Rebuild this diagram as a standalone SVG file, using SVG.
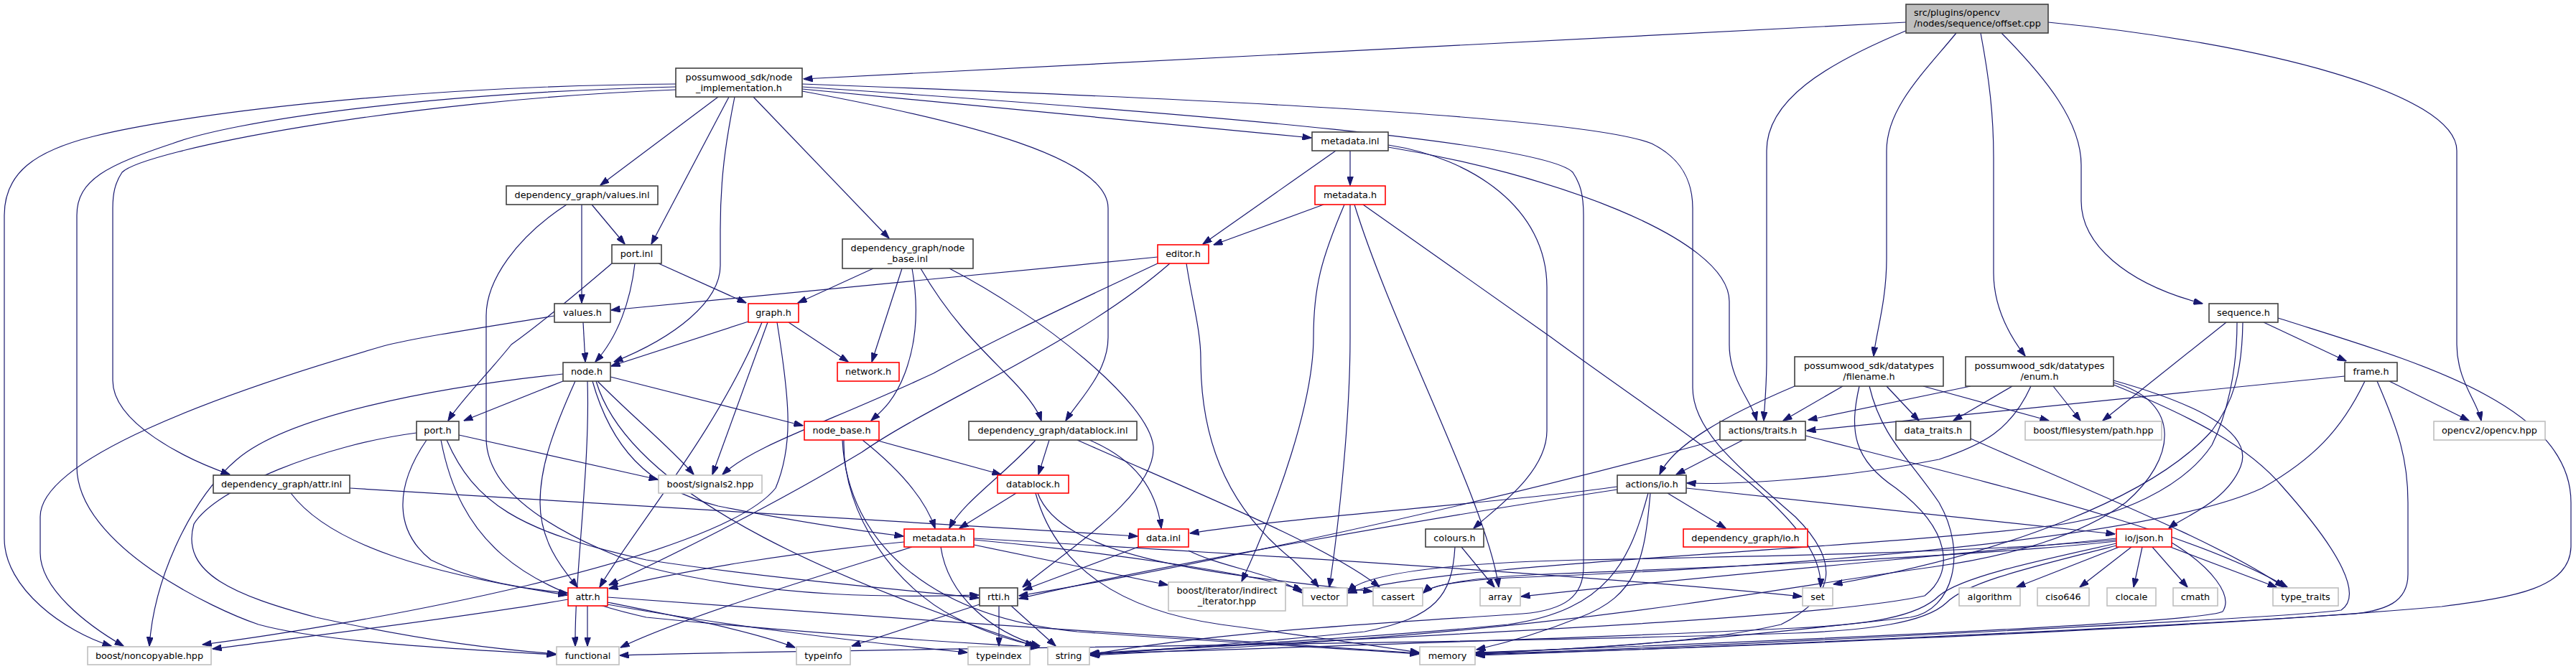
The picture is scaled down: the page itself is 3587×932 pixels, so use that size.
<svg xmlns="http://www.w3.org/2000/svg" width="3587" height="932" viewBox="0 0 3587 932">
<style>
.n rect{fill:#fff;stroke:#404040;stroke-width:1.6}
.n.r rect{stroke:#ff0000}
.n.g rect{stroke:#bfbfbf}
.n.root rect{fill:#bfbfbf;stroke:#404040}
text{font-family:"DejaVu Sans",sans-serif;font-size:12.8px;fill:#000;text-anchor:middle}
.n.root text{text-anchor:start}
#edges path{fill:none;stroke:#191970;stroke-width:1.2;marker-end:url(#a)}
</style>
<defs>
<marker id="a" markerWidth="13" markerHeight="9" refX="12.5" refY="4.5" orient="auto" markerUnits="userSpaceOnUse"><path d="M0,0 L13,4.5 L0,9 z" fill="#191970" stroke="#191970" stroke-width="1"/></marker>
</defs>
<rect width="3587" height="932" fill="#fff"/>
<g id="edges">
<path d="M2654,31 L1119,110"/>
<path d="M2656,42 C2540,90 2460,140 2460,210 L2460,500 C2460,540 2457,565 2456,586"/>
<path d="M2724,46 C2680,100 2627,150 2627,210 L2627,360 C2627,420 2612,465 2609,496"/>
<path d="M2758,46 C2770,110 2776,160 2776,220 L2776,380 C2776,430 2800,470 2820,496"/>
<path d="M2787,46 C2850,110 2898,170 2898,230 L2898,280 C2898,340 2960,395 3067,423"/>
<path d="M2852,31 C3150,60 3421,130 3421,210 L3421,480 C3421,530 3450,560 3455,586"/>
<path d="M941,117 C560,120 250,160 130,190 C50,210 6,240 6,300 L6,750 C6,820 90,880 155,900"/>
<path d="M941,121 C580,130 320,170 240,200 C150,230 107,250 107,300 L107,650 C107,760 300,850 360,870 C450,895 650,905 774,912"/>
<path d="M941,125 C550,140 200,210 170,240 C160,255 157,270 157,290 L157,530 C157,590 260,640 320,661"/>
<path d="M1000,135 L836,258"/>
<path d="M1015,135 L907,340"/>
<path d="M1023,135 C1010,200 1003,250 1003,320 L1003,370 C1003,420 940,470 855,504"/>
<path d="M1049,135 L1238,332"/>
<path d="M1117,124 L1826,192"/>
<path d="M1117,127 C1350,170 1543,220 1543,290 L1543,470 C1543,520 1500,560 1484,586"/>
<path d="M1117,117 C1600,135 2200,160 2300,200 C2340,220 2357,250 2357,290 L2357,540 C2357,600 2420,650 2500,720 C2560,780 2560,830 2480,870 C2350,900 2150,905 2055,910"/>
<path d="M1117,121 C1700,160 2150,200 2190,240 C2200,255 2205,270 2205,300 L2205,790 C2205,830 2180,850 2120,855 C1900,870 1700,880 1518,912"/>
<path d="M824,285 L870,340"/>
<path d="M810,285 L810,422"/>
<path d="M789,285 C720,330 677,390 677,440 L677,610 C677,680 760,740 900,790 C1100,840 1300,830 1363,829"/>
<path d="M917,367 L1039,422"/>
<path d="M852,367 C790,420 740,460 712,480 C680,520 640,560 624,586"/>
<path d="M884,367 C878,420 860,470 829,504"/>
<path d="M812,449 L815,504"/>
<path d="M772,440 C680,455 580,470 534,482 C300,550 56,640 56,720 L56,770 C56,820 120,870 172,900"/>
<path d="M1216,374 L1111,422"/>
<path d="M1256,374 L1214,504"/>
<path d="M1270,374 C1280,430 1275,480 1260,520 C1245,560 1225,575 1213,586"/>
<path d="M1282,374 C1320,440 1360,480 1400,520 C1430,550 1445,570 1450,586"/>
<path d="M1322,374 C1450,440 1600,560 1606,622 C1610,690 1480,770 1424,818"/>
<path d="M1612,358 C1300,390 950,420 851,432"/>
<path d="M1612,367 C1500,420 1390,470 1300,520 C1150,590 1050,620 1006,661"/>
<path d="M1629,367 C1500,480 1300,560 1200,630 C1050,720 900,790 848,815"/>
<path d="M1652,367 C1660,420 1672,460 1672,500 C1672,600 1700,700 1800,780 C1820,800 1830,810 1836,818"/>
<path d="M1860,210 L1675,340"/>
<path d="M1880,210 L1880,258"/>
<path d="M1933,202 C2050,220 2154,290 2154,400 L2154,600 C2154,660 2080,710 2052,736"/>
<path d="M1933,205 C2150,240 2408,330 2408,420 L2408,480 C2408,530 2440,560 2446,586"/>
<path d="M1843,285 L1690,341"/>
<path d="M1872,285 C1840,360 1829,400 1829,470 C1829,560 1780,700 1729,810"/>
<path d="M1880,285 L1880,470 C1880,600 1860,760 1851,818"/>
<path d="M1886,285 C1940,460 2070,700 2087,818"/>
<path d="M1898,285 L2160,470 C2350,610 2540,720 2535,818"/>
<path d="M3100,449 L2928,586"/>
<path d="M3152,449 L3267,503"/>
<path d="M3172,443 C3350,500 3580,560 3580,700 L3580,760 C3580,820 3500,832 3400,845 C3000,880 2300,905 2055,912"/>
<path d="M3115,449 C3115,520 3100,580 3080,620 C3040,680 2950,720 2860,732 C2600,765 2000,785 1877,826"/>
<path d="M3123,449 C3122,520 3110,560 3080,600 C3000,690 2800,770 2553,814"/>
<path d="M3265,524 L2516,600"/>
<path d="M3327,531 L3438,586"/>
<path d="M3310,531 C3340,600 3353,640 3353,700 L3353,800 C3353,840 3320,850 3280,855 C2900,880 2300,905 2055,913"/>
<path d="M3293,531 C3260,600 3220,640 3150,680 C3000,750 2500,790 2100,805 C2020,810 1990,817 1982,826"/>
<path d="M2744,538 L2518,585"/>
<path d="M2802,538 L2720,586"/>
<path d="M2859,538 L2897,586"/>
<path d="M2828,538 C2800,600 2760,620 2700,640 C2550,670 2400,675 2349,673"/>
<path d="M2943,530 C3050,560 3140,600 3120,650 C3100,700 3040,720 3020,736"/>
<path d="M2943,533 C3040,560 3030,640 2960,700 C2900,745 2800,775 2690,790 C2400,830 2200,880 1518,913"/>
<path d="M2943,536 C3050,580 3130,620 3180,680 C3260,770 3290,830 3260,850 C3200,860 2300,905 2055,911"/>
<path d="M2499,538 C2400,580 2330,620 2311,661"/>
<path d="M2566,538 L2483,586"/>
<path d="M2627,538 L2672,586"/>
<path d="M2678,538 L2853,586"/>
<path d="M2589,538 C2575,600 2580,640 2640,680 C2720,740 2720,800 2680,830 C2500,870 1700,895 1518,912"/>
<path d="M2603,538 C2620,610 2660,640 2700,700 C2740,770 2720,850 2660,860 C2400,890 2200,905 2055,910"/>
<path d="M2427,613 L2334,661"/>
<path d="M2395,612 C2000,720 1600,800 1419,830"/>
<path d="M2514,607 C2800,680 3050,740 3185,818"/>
<path d="M2744,611 C2900,680 3100,760 3180,818"/>
<path d="M2322,687 L2403,736"/>
<path d="M2348,680 L2945,744"/>
<path d="M2252,678 C2100,700 1800,720 1657,743"/>
<path d="M2252,682 C2000,720 1600,790 1419,834"/>
<path d="M2295,687 C2270,780 2240,850 2100,870 C1900,890 1600,905 1518,910"/>
<path d="M2298,687 C2290,780 2280,830 2200,860 C2150,880 2100,895 2056,905"/>
<path d="M2035,762 L2081,818"/>
<path d="M2026,762 C2022,830 2000,860 1900,880 C1700,900 1600,905 1519,912"/>
<path d="M2951,762 L2808,818"/>
<path d="M2968,762 L2896,818"/>
<path d="M2983,762 L2971,818"/>
<path d="M2997,762 L3046,818"/>
<path d="M3022,762 L3170,818"/>
<path d="M3024,756 C3080,790 3110,830 3095,852 C3060,870 2300,900 2055,909"/>
<path d="M2947,750 C2700,775 2400,800 2118,831"/>
<path d="M2947,752 C2750,770 2450,775 2200,780 C2000,785 1900,800 1877,824"/>
<path d="M2947,754 C2750,775 2400,790 2150,800 C2040,805 1995,815 1982,826"/>
<path d="M2947,757 C2820,785 2730,805 2700,830 C2670,860 2600,870 2500,875 C2200,890 1700,905 1519,911"/>
<path d="M2947,760 C2830,790 2740,810 2710,840 C2680,868 2600,878 2500,882 C2000,898 1100,905 863,913"/>
<path d="M1585,762 L1425,822"/>
<path d="M1655,767 C1700,790 1780,800 1813,826"/>
<path d="M1442,613 C1400,660 1340,700 1322,736"/>
<path d="M1461,613 L1446,661"/>
<path d="M1517,613 C1580,640 1610,680 1617,736"/>
<path d="M1500,613 C1650,680 1850,760 1921,818"/>
<path d="M1415,687 L1336,736"/>
<path d="M1445,687 C1480,780 1700,800 1911,824"/>
<path d="M1442,687 C1470,790 1560,850 1700,870 C1850,890 1950,905 1976,909"/>
<path d="M1219,613 L1394,661"/>
<path d="M1201,613 C1260,660 1290,700 1302,736"/>
<path d="M1175,613 C1173,720 1250,820 1330,860 C1380,885 1420,895 1445,900"/>
<path d="M1173,613 C1180,760 1300,860 1500,880 C1700,895 1900,905 1976,911"/>
<path d="M1259,755 C1100,770 950,795 848,820"/>
<path d="M1270,762 C1150,800 950,860 864,902"/>
<path d="M1310,762 C1320,830 1380,880 1448,900"/>
<path d="M1356,759 L1626,815"/>
<path d="M1356,752 C1550,770 1750,800 1813,822"/>
<path d="M1356,750 C1700,770 2200,800 2509,831"/>
<path d="M1364,842 L1186,900"/>
<path d="M1391,844 L1391,900"/>
<path d="M1408,844 L1470,900"/>
<path d="M818,844 L818,900"/>
<path d="M791,835 C650,860 400,890 296,904"/>
<path d="M846,839 C950,860 1050,880 1107,902"/>
<path d="M846,842 C1000,870 1200,895 1347,909"/>
<path d="M846,832 C1200,860 1700,890 1976,910"/>
<path d="M405,687 C460,760 600,800 790,829"/>
<path d="M487,680 L1584,747"/>
<path d="M784,531 L646,586"/>
<path d="M784,521 C600,540 400,580 330,640 C270,690 215,800 208,900"/>
<path d="M801,531 C770,600 752,650 752,700 C752,760 790,800 804,818"/>
<path d="M850,525 L1118,593"/>
<path d="M832,531 C880,580 930,620 966,661"/>
<path d="M818,531 C822,650 800,800 801,900"/>
<path d="M825,531 C850,620 900,680 1000,705 C1100,725 1200,740 1258,747"/>
<path d="M830,531 C880,700 1200,820 1440,900"/>
<path d="M639,606 L916,668"/>
<path d="M594,613 C548,680 550,740 600,780 C660,810 740,822 790,826"/>
<path d="M580,603 C450,620 300,680 270,730 C250,800 330,830 440,860 C600,895 700,905 774,911"/>
<path d="M614,613 C640,750 720,820 900,860 C1200,890 1400,898 1447,902"/>
<path d="M622,613 C660,700 720,740 900,780 C1100,810 1300,825 1363,833"/>
<path d="M1042,448 L851,510"/>
<path d="M1061,449 C1000,600 880,740 835,818"/>
<path d="M1069,449 L992,661"/>
<path d="M1082,449 C1100,560 1105,620 1080,680 C1000,780 500,870 282,898"/>
<path d="M1098,449 L1181,504"/>
</g>
<g id="n1" class="n root"><rect x="2654" y="6" width="198" height="40"/><text x="2665" y="22">src/plugins/opencv</text><text x="2665" y="37">/nodes/sequence/offset.cpp</text></g>
<g id="n2" class="n"><rect x="941" y="95" width="176" height="40"/><text x="1029" y="112">possumwood_sdk/node</text><text x="1029" y="127">_implementation.h</text></g>
<g id="n3" class="n"><rect x="705" y="259" width="211" height="26"/><text x="810.5" y="276">dependency_graph/values.inl</text></g>
<g id="n4" class="n"><rect x="852" y="341" width="69" height="26"/><text x="886.5" y="358">port.inl</text></g>
<g id="n5" class="n"><rect x="772" y="423" width="78" height="26"/><text x="811" y="440">values.h</text></g>
<g id="n6" class="n"><rect x="1173" y="333" width="182" height="41"/><text x="1264" y="350">dependency_graph/node</text><text x="1264" y="365">_base.inl</text></g>
<g id="n7" class="n r"><rect x="1612" y="341" width="71" height="26"/><text x="1647.5" y="358">editor.h</text></g>
<g id="n8" class="n r"><rect x="1042" y="423" width="70" height="26"/><text x="1077" y="440">graph.h</text></g>
<g id="n9" class="n"><rect x="1827" y="184" width="106" height="26"/><text x="1880" y="201">metadata.inl</text></g>
<g id="n10" class="n r"><rect x="1831" y="259" width="98" height="26"/><text x="1880" y="276">metadata.h</text></g>
<g id="n11" class="n"><rect x="3076" y="423" width="96" height="26"/><text x="3124" y="440">sequence.h</text></g>
<g id="n12" class="n"><rect x="784" y="505" width="66" height="26"/><text x="817" y="522">node.h</text></g>
<g id="n13" class="n"><rect x="580" y="587" width="59" height="26"/><text x="609.5" y="604">port.h</text></g>
<g id="n14" class="n"><rect x="297" y="662" width="190" height="25"/><text x="392" y="679">dependency_graph/attr.inl</text></g>
<g id="n15" class="n r"><rect x="791" y="819" width="55" height="25"/><text x="818.5" y="836">attr.h</text></g>
<g id="n16" class="n g"><rect x="122" y="901" width="172" height="25"/><text x="208" y="918">boost/noncopyable.hpp</text></g>
<g id="n17" class="n g"><rect x="775" y="901" width="87" height="25"/><text x="818.5" y="918">functional</text></g>
<g id="n18" class="n r"><rect x="1166" y="505" width="86" height="26"/><text x="1209" y="522">network.h</text></g>
<g id="n19" class="n r"><rect x="1120" y="587" width="104" height="26"/><text x="1172" y="604">node_base.h</text></g>
<g id="n20" class="n"><rect x="1349" y="587" width="234" height="26"/><text x="1466" y="604">dependency_graph/datablock.inl</text></g>
<g id="n21" class="n g"><rect x="917" y="662" width="144" height="25"/><text x="989" y="679">boost/signals2.hpp</text></g>
<g id="n22" class="n r"><rect x="1389" y="662" width="99" height="25"/><text x="1438.5" y="679">datablock.h</text></g>
<g id="n23" class="n r"><rect x="1259" y="737" width="97" height="25"/><text x="1307.5" y="754">metadata.h</text></g>
<g id="n24" class="n r"><rect x="1585" y="737" width="70" height="25"/><text x="1620" y="754">data.inl</text></g>
<g id="n25" class="n"><rect x="1364" y="819" width="53" height="25"/><text x="1390.5" y="836">rtti.h</text></g>
<g id="n26" class="n g"><rect x="1627" y="811" width="163" height="40"/><text x="1708.5" y="827">boost/iterator/indirect</text><text x="1708.5" y="842">_iterator.hpp</text></g>
<g id="n27" class="n g"><rect x="1109" y="901" width="75" height="25"/><text x="1146.5" y="918">typeinfo</text></g>
<g id="n28" class="n g"><rect x="1348" y="901" width="86" height="25"/><text x="1391" y="918">typeindex</text></g>
<g id="n29" class="n g"><rect x="1459" y="901" width="58" height="25"/><text x="1488" y="918">string</text></g>
<g id="n30" class="n"><rect x="2499" y="497" width="207" height="41"/><text x="2602.5" y="514">possumwood_sdk/datatypes</text><text x="2602.5" y="529">/filename.h</text></g>
<g id="n31" class="n"><rect x="2395" y="587" width="119" height="26"/><text x="2454.5" y="604">actions/traits.h</text></g>
<g id="n32" class="n"><rect x="2640" y="587" width="104" height="26"/><text x="2692" y="604">data_traits.h</text></g>
<g id="n33" class="n"><rect x="2252" y="662" width="96" height="25"/><text x="2300" y="679">actions/io.h</text></g>
<g id="n34" class="n"><rect x="1985" y="737" width="81" height="25"/><text x="2025.5" y="754">colours.h</text></g>
<g id="n35" class="n r"><rect x="2344" y="737" width="173" height="25"/><text x="2430.5" y="754">dependency_graph/io.h</text></g>
<g id="n36" class="n g"><rect x="1814" y="819" width="62" height="25"/><text x="1845" y="836">vector</text></g>
<g id="n37" class="n g"><rect x="1912" y="819" width="69" height="25"/><text x="1946.5" y="836">cassert</text></g>
<g id="n38" class="n g"><rect x="2061" y="819" width="56" height="25"/><text x="2089" y="836">array</text></g>
<g id="n39" class="n g"><rect x="2510" y="819" width="42" height="25"/><text x="2531" y="836">set</text></g>
<g id="n40" class="n g"><rect x="1977" y="901" width="77" height="25"/><text x="2015.5" y="918">memory</text></g>
<g id="n41" class="n"><rect x="2737" y="497" width="206" height="41"/><text x="2840" y="514">possumwood_sdk/datatypes</text><text x="2840" y="529">/enum.h</text></g>
<g id="n42" class="n g"><rect x="2820" y="587" width="190" height="26"/><text x="2915" y="604">boost/filesystem/path.hpp</text></g>
<g id="n43" class="n"><rect x="3265" y="505" width="73" height="26"/><text x="3301.5" y="522">frame.h</text></g>
<g id="n44" class="n g"><rect x="3389" y="587" width="155" height="26"/><text x="3466.5" y="604">opencv2/opencv.hpp</text></g>
<g id="n45" class="n r"><rect x="2947" y="737" width="77" height="25"/><text x="2985.5" y="754">io/json.h</text></g>
<g id="n46" class="n g"><rect x="2728" y="819" width="85" height="25"/><text x="2770.5" y="836">algorithm</text></g>
<g id="n47" class="n g"><rect x="2837" y="819" width="72" height="25"/><text x="2873" y="836">ciso646</text></g>
<g id="n48" class="n g"><rect x="2934" y="819" width="68" height="25"/><text x="2968" y="836">clocale</text></g>
<g id="n49" class="n g"><rect x="3026" y="819" width="62" height="25"/><text x="3057" y="836">cmath</text></g>
<g id="n50" class="n g"><rect x="3165" y="819" width="91" height="25"/><text x="3210.5" y="836">type_traits</text></g>
</svg>
